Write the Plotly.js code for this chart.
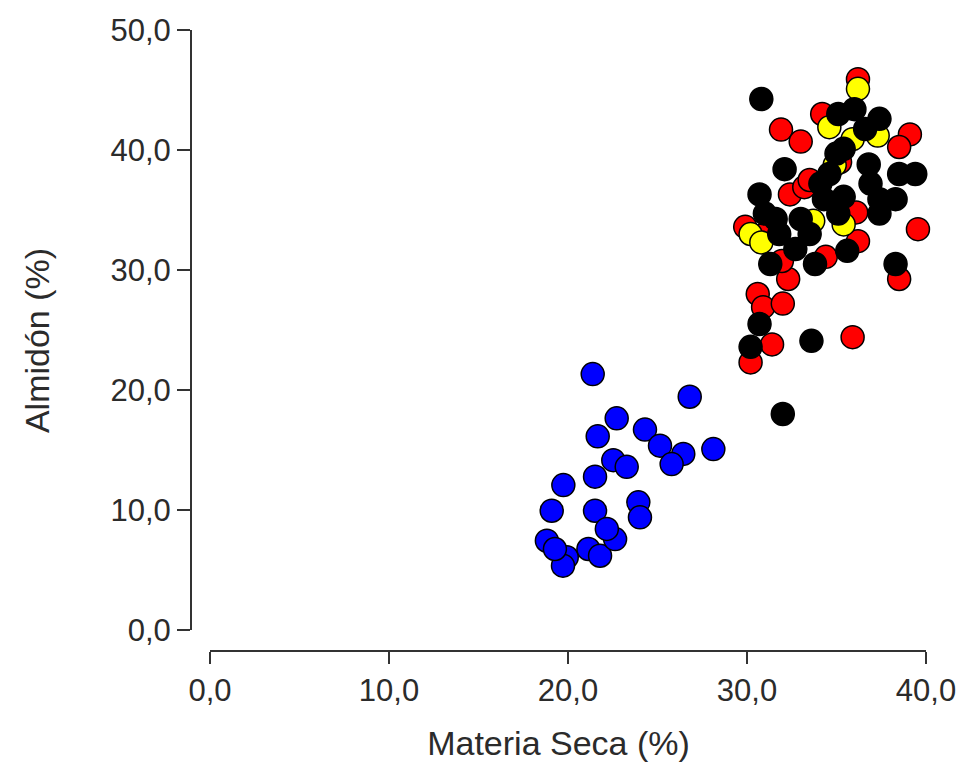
<!DOCTYPE html>
<html>
<head>
<meta charset="utf-8">
<script src="https://cdn.plot.ly/plotly-3.0.1.min.js"></script>
<style>html,body{margin:0;padding:0;background:#fff;}#chart{width:966px;height:772px;}</style>
</head>
<body>
<div id="chart"></div>
<script>
// Blue group
const blueX = [21.38, 26.8, 22.72, 21.66, 24.3, 25.14, 26.44, 25.79, 28.12, 22.53, 23.28, 21.51, 19.74, 19.09, 21.51, 23.93, 24.02, 18.82, 19.93, 19.72, 21.14, 21.79, 22.63, 22.17, 19.27];
const blueY = [21.33, 19.44, 17.64, 16.14, 16.7, 15.36, 14.67, 13.83, 15.08, 14.15, 13.6, 12.78, 12.08, 9.94, 9.94, 10.64, 9.39, 7.44, 6.06, 5.36, 6.75, 6.19, 7.58, 8.42, 6.75];
// Red group
const redX = [36.2, 31.9, 33.0, 34.2, 39.1, 38.5, 29.9, 39.55, 36.2, 36.1, 34.4, 32.3, 30.6, 30.9, 32.0, 31.4, 30.2, 35.9, 38.5, 32.4, 33.2, 31.95, 35.2, 33.5, 31.0];
const redY = [45.9, 41.7, 40.7, 43.0, 41.3, 40.25, 33.6, 33.4, 32.4, 34.8, 31.1, 29.25, 28.0, 26.9, 27.2, 23.8, 22.3, 24.4, 29.25, 36.3, 36.9, 30.75, 39.0, 37.5, 33.0];
// Yellow group
const yellowX = [36.2, 34.6, 35.9, 37.3, 30.2, 30.8, 33.7, 35.4, 34.9];
const yellowY = [45.1, 41.9, 40.9, 41.2, 33.0, 32.3, 34.1, 33.8, 38.75];
// Black group
const blackX = [30.8, 36.0, 37.4, 35.1, 32.1, 30.7, 31.0, 31.3, 31.8, 33.5, 33.0, 34.6, 34.3, 33.8, 35.6, 37.4, 37.4, 38.3, 39.4, 38.5, 36.8, 30.7, 30.2, 33.6, 32.0, 35.4, 35.0, 38.3, 35.4, 34.1, 35.1, 32.7, 31.6, 36.6, 36.9];
const blackY = [44.25, 43.4, 42.6, 43.0, 38.4, 36.3, 34.7, 30.5, 33.0, 33.0, 34.25, 38.0, 35.9, 30.5, 31.6, 35.9, 34.7, 30.5, 38.0, 38.0, 38.8, 25.5, 23.6, 24.1, 18.0, 36.1, 39.7, 35.9, 40.1, 37.2, 34.7, 31.75, 34.25, 41.75, 37.2];

const tickValsX = [0, 10, 20, 30, 40];
const tickTextX = ['0,0', '10,0', '20,0', '30,0', '40,0'];
const tickValsY = [0, 10, 20, 30, 40, 50];
const tickTextY = ['0,0', '10,0', '20,0', '30,0', '40,0', '50,0'];

function tr(x, y, color) {
  return {
    type: 'scatter', mode: 'markers', x: x, y: y, cliponaxis: false,
    marker: {color: color, size: 23, line: {color: '#000', width: 1.5}},
    hoverinfo: 'x+y'
  };
}

const data = [
  tr(blueX, blueY, '#0000ff'),
  tr(redX, redY, '#ff0000'),
  tr(yellowX, yellowY, '#ffff00'),
  tr(blackX, blackY, '#000000')
];

const fontFam = '"Liberation Sans", Arial, sans-serif';
const txtColor = '#2b2b2b';
const layout = {
  width: 966, height: 772,
  margin: {l: 191, r: 40, t: 30, b: 121},
  paper_bgcolor: '#fff', plot_bgcolor: '#fff',
  showlegend: false,
  font: {family: fontFam, color: txtColor},
  xaxis: {
    range: [-19/17.9, 40], tickvals: tickValsX, ticktext: tickTextX,
    showgrid: false, zeroline: false, showline: false,
    ticks: 'outside', ticklen: 12, tickwidth: 2, tickcolor: '#333',
    tickfont: {size: 31, color: txtColor, family: fontFam},
    title: {text: 'Materia Seca (%)', font: {size: 34, color: txtColor, family: fontFam}, standoff: 23},
    automargin: 'bottom'
  },
  yaxis: {
    range: [-21/12, 50], tickvals: tickValsY, ticktext: tickTextY,
    showgrid: false, zeroline: false, showline: false,
    ticks: 'outside', ticklen: 13, tickwidth: 2, tickcolor: '#333',
    tickfont: {size: 31, color: txtColor, family: fontFam},
    title: {text: 'Almidón (%)', font: {size: 34, color: txtColor, family: fontFam}, standoff: 50},
    automargin: 'left'
  },
  shapes: [
    {type: 'line', xref: 'x', yref: 'paper', x0: 0, x1: 40, y0: 0, y1: 0, line: {color: '#333', width: 2}},
    {type: 'line', xref: 'paper', yref: 'y', x0: 0, x1: 0, y0: 0, y1: 50, line: {color: '#333', width: 2}}
  ]
};

Plotly.newPlot('chart', data, layout, {displayModeBar: false, staticPlot: true});
</script>
</body>
</html>
